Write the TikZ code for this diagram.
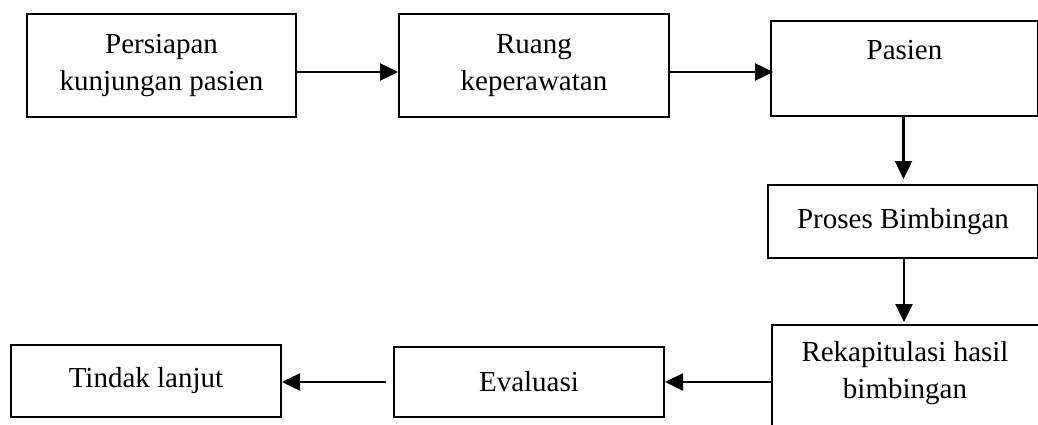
\documentclass[tikz,border=0pt]{standalone}
\usepackage{fontspec}
\setmainfont{Liberation Serif}
\usetikzlibrary{arrows.meta}
\tikzset{
  box/.style={draw, line width=2pt, inner sep=0pt, align=center, anchor=north west,
    font=\fontsize{29}{37}\selectfont},
  lbl/.style={inner sep=0pt, align=center, font=\fontsize{29}{37}\selectfont},
  arr/.style={line width=2.5pt, -{Triangle[length=18pt,width=17pt]}}
}
\begin{document}
\begin{tikzpicture}[x=1pt,y=-1pt]
\useasboundingbox (0,0) rectangle (1038,425);
\clip (0,0) rectangle (1038,425);
\node[box, minimum width=269pt, minimum height=103pt] (b1) at (26,13) {Persiapan\\kunjungan pasien};
\node[box, minimum width=270pt, minimum height=103pt] (b2) at (398,13) {Ruang\\keperawatan};
\node[box, minimum width=267pt, minimum height=95pt] (b3) at (770,20) {Pasien\\\mbox{}};
\node[box, minimum width=270pt, minimum height=73pt] (b4) at (767,184) {Proses Bimbingan};
\node[box, minimum width=280pt, minimum height=116pt] (b5) at (771,324) {};
\node[lbl] (b5t) at (905,373) {Rekapitulasi hasil\\bimbingan};
\node[box, minimum width=270pt, minimum height=70pt] (b6) at (393,346) {Evaluasi};
\node[box, minimum width=270pt, minimum height=72pt] (b7) at (10,344) {Tindak lanjut};
\coordinate (r1) at (0,72);
\draw[arr] (b1.east |- r1) ++(-2,0) -- (b2.west |- r1);
\draw[arr] (b2.east |- r1) -- ([xshift=3pt]b3.west |- r1);
\draw[arr] ([xshift=-1pt]b3.south) -- ([xshift=-1pt,yshift=5pt]b3.south |- b4.north);
\draw[arr] ([xshift=1pt]b4.south) -- ([xshift=1pt,yshift=2pt]b4.south |- b5.north);
\coordinate (r2) at (0,382);
\draw[arr] (b5.west |- r2) -- (b6.east |- r2);
\draw[arr] ([xshift=-7pt]b6.west |- r2) -- (b7.east |- r2);
\end{tikzpicture}
\end{document}
